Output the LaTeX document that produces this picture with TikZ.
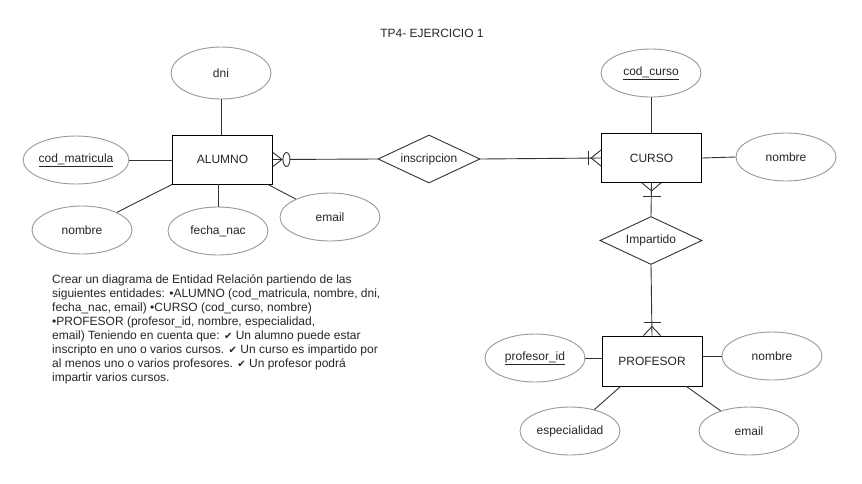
\documentclass[tikz,border=0pt]{standalone}
\usepackage{fontspec}
\setmainfont{Liberation Sans}
\newfontfamily\symfont{DejaVu Sans}
\usetikzlibrary{shapes.geometric,calc}
\definecolor{linegray}{HTML}{333333}
\definecolor{ellgray}{HTML}{999999}
\newcommand{\chk}{{\symfont\fontsize{10}{14}\selectfont ✔}}
\begin{document}
\begin{tikzpicture}[x=1pt,y=-1pt,
  every node/.style={font=\fontsize{12}{14}\selectfont, text=black!85},
  entity/.style={draw=black, line width=0.9pt, minimum width=100pt, minimum height=49pt, inner sep=0pt},
  attr/.style={ellipse, draw=ellgray, line width=0.9pt, minimum width=100pt, minimum height=48pt, inner sep=0pt},
  rel/.style={diamond, draw=linegray, line width=0.9pt, minimum width=102pt, minimum height=48pt, inner sep=0pt, aspect=2},
  conn/.style={draw=linegray, line width=0.9pt}]
\useasboundingbox[fill=white] (0,0) rectangle (862,483);

\node (title) at (432,33) {TP4- EJERCICIO 1};

% ALUMNO
\node[entity] (alumno) at (222.5,159.5) {ALUMNO};
\node[attr, minimum height=52pt] (dni) at (221,73) {dni};
\node[attr] (codm) at (76,160) {\underline{cod\_matricula}};
\node[attr] (nombreA) at (82,230) {nombre};
\node[attr] (fecha) at (218,231) {fecha\_nac};
\node[attr] (emailA) at (330,217) {email};

% relationships and other entities
\node[rel] (insc) at (429,159) {inscripcion};
\node[entity] (curso) at (651.5,158) {CURSO};
\node[attr] (codc) at (651,73) {\underline{cod\_curso}};
\node[attr] (nombreC) at (786,157) {nombre};
\node[rel] (imp) at (651,240.5) {Impartido};
\node[entity, minimum height=50pt] (prof) at (652,361) {PROFESOR};
\node[attr] (profid) at (535,358) {\underline{profesor\_id}};
\node[attr] (nombreP) at (772,356) {nombre};
\node[attr] (esp) at (570,431) {especialidad};
\node[attr] (emailP) at (749,431) {email};

% attribute connectors
\draw[conn] (dni.south) -- (dni.south |- alumno.north);
\draw[conn] (codm.east) -- (codm.east -| alumno.west);
\draw[conn] (alumno.south west) -- (nombreA);
\draw[conn] (fecha.north) -- (fecha.north |- alumno.south);
\draw[conn] ($(alumno.south east)+(-5,0)$) -- (emailA);
\draw[conn] (codc.south) -- (codc.south |- curso.north);
\draw[conn] (curso.east) -- (nombreC.west);
\draw[conn] (profid.east) -- (profid.east -| prof.west);
\draw[conn] (nombreP.west) -- (nombreP.west -| prof.east);
\draw[conn] ($(prof.south west)+(19,0)$) -- (esp);
\draw[conn] ($(prof.south east)+(-16,0)$) -- (emailP);

% relationship connectors
\draw[conn] (alumno.east) -- (insc.west);
\draw[conn] (insc.east) -- (curso.west);
\draw[conn] (curso.south) -- (imp.north);
\draw[conn] (imp.south) -- (prof.north);

% ALUMNO side: zero or many
\coordinate (a1) at ($(alumno.east)+(9,0)$);
\draw[conn] ($(alumno.east)+(0,-7)$) -- (a1) -- ($(alumno.east)+(0,7)$);
\draw[conn, fill=white] ($(alumno.east)+(13.5,0)$) ellipse [x radius=3.5, y radius=7];

% CURSO left: one or many
\coordinate (c1) at ($(curso.west)+(-10,0)$);
\draw[conn] ($(curso.west)+(0,-8)$) -- (c1) -- ($(curso.west)+(0,8)$);
\draw[conn] ($(curso.west)+(-13,-7)$) -- ($(curso.west)+(-13,7)$);

% CURSO bottom: one or many
\coordinate (c2) at ($(curso.south)+(0,8)$);
\draw[conn] ($(curso.south)+(-9.5,0)$) -- (c2) -- ($(curso.south)+(9.5,0)$);
\draw[conn] ($(curso.south)+(-9,13)$) -- ($(curso.south)+(9,13)$);

% PROFESOR top: one or many
\coordinate (p1) at ($(prof.north)+(0,-9)$);
\draw[conn] ($(prof.north)+(-8.5,0)$) -- (p1) -- ($(prof.north)+(8.5,0)$);
\draw[conn] ($(prof.north)+(-8.5,-13)$) -- ($(prof.north)+(8.5,-13)$);

% description
\node[anchor=north west, align=left, inner sep=0pt] (desc) at (52,274) {%
Crear un diagrama de Entidad Relación partiendo de las\\
siguientes entidades: •ALUMNO (cod\_matricula, nombre, dni,\\
fecha\_nac, email) •CURSO (cod\_curso, nombre)\\
•PROFESOR (profesor\_id, nombre, especialidad,\\
email) Teniendo en cuenta que: \chk{} Un alumno puede estar\\
inscripto en uno o varios cursos. \chk{} Un curso es impartido por\\
al menos uno o varios profesores. \chk{} Un profesor podrá\\
impartir varios cursos.};
\end{tikzpicture}
\end{document}
